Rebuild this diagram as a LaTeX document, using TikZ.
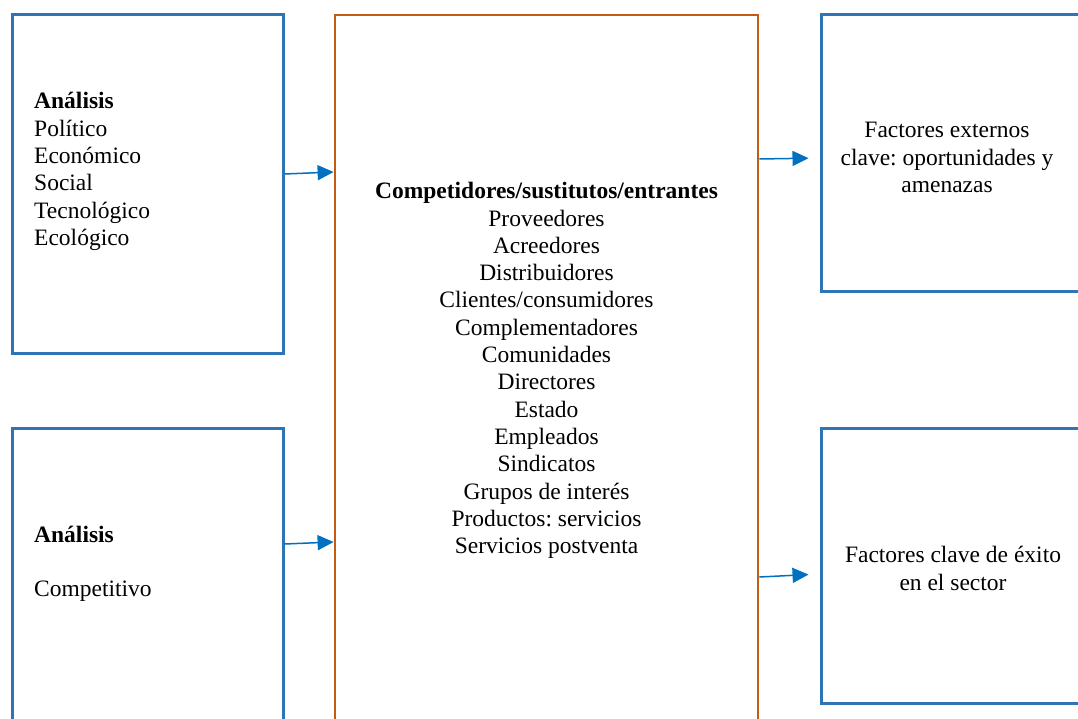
\documentclass[tikz,border=0pt]{standalone}
\usepackage{fontspec}
\setmainfont{Liberation Serif}
\usetikzlibrary{arrows.meta}
\definecolor{boxblue}{HTML}{2E75B6}
\definecolor{boxorange}{HTML}{C55A11}
\definecolor{arrowblue}{HTML}{0070C0}
\frenchspacing
\begin{document}
\begin{tikzpicture}[x=1pt,y=-1pt,
  bluebox/.style={draw=boxblue,line width=3pt,minimum width=#1,inner sep=0pt},
  orangebox/.style={draw=boxorange,line width=2.8pt,inner sep=0pt},
  txt/.style={font=\fontsize{23.5}{27.3}\selectfont,inner sep=0pt},
  arr/.style={draw=arrowblue,line width=1.5pt,-{Triangle[length=16pt,width=15pt]}}]
\useasboundingbox (0,0) rectangle (1078,719);
\clip (0,0) rectangle (1078,719);
% frames
\node[bluebox=271pt,minimum height=338pt] (pest) at (147.5,184) {};
\node[bluebox=271pt,minimum height=312pt] (comp) at (147.5,584) {};
\node[orangebox,minimum width=423pt,minimum height=725pt] (mid) at (546.5,377.5) {};
\node[bluebox=269pt,minimum height=276pt] (ext) at (955.5,153) {};
\node[bluebox=269pt,minimum height=275pt] (fce) at (955.5,565.5) {};
% texts
\node[txt,anchor=west,align=left] (pestt) at (34,171.5)
  {\textbf{Análisis}\\Político\\Económico\\Social\\Tecnológico\\Ecológico};
\node[txt,anchor=west,align=left] (compt) at (34,564)
  {\textbf{Análisis}\\[27.3pt]Competitivo};
\node[txt,align=center] (midt) at (546.5,370.5)
  {\textbf{Competidores/sustitutos/entrantes}\\Proveedores\\Acreedores\\Distribuidores\\
   Clientes/consumidores\\Complementadores\\Comunidades\\Directores\\Estado\\Empleados\\
   Sindicatos\\Grupos de interés\\Productos: servicios\\Servicios postventa};
\node[txt,align=center] (extt) at (947,157.5)
  {Factores externos\\clave: oportunidades y\\amenazas};
\node[txt,align=center] (fcet) at (953,568.5)
  {Factores clave de éxito\\en el sector};
% connectors
\draw[arr] ([yshift=10pt]pest.east) -- ([yshift=205.5pt]mid.west);
\draw[arr] ([yshift=40pt]comp.east) -- ([yshift=-164.5pt]mid.west);
\draw[arr,shorten >=11pt] ([yshift=218.5pt]mid.east) -- ([yshift=-5pt]ext.west);
\draw[arr,shorten >=11pt] ([yshift=-199.5pt]mid.east) -- ([yshift=-8.5pt]fce.west);
\end{tikzpicture}
\end{document}
